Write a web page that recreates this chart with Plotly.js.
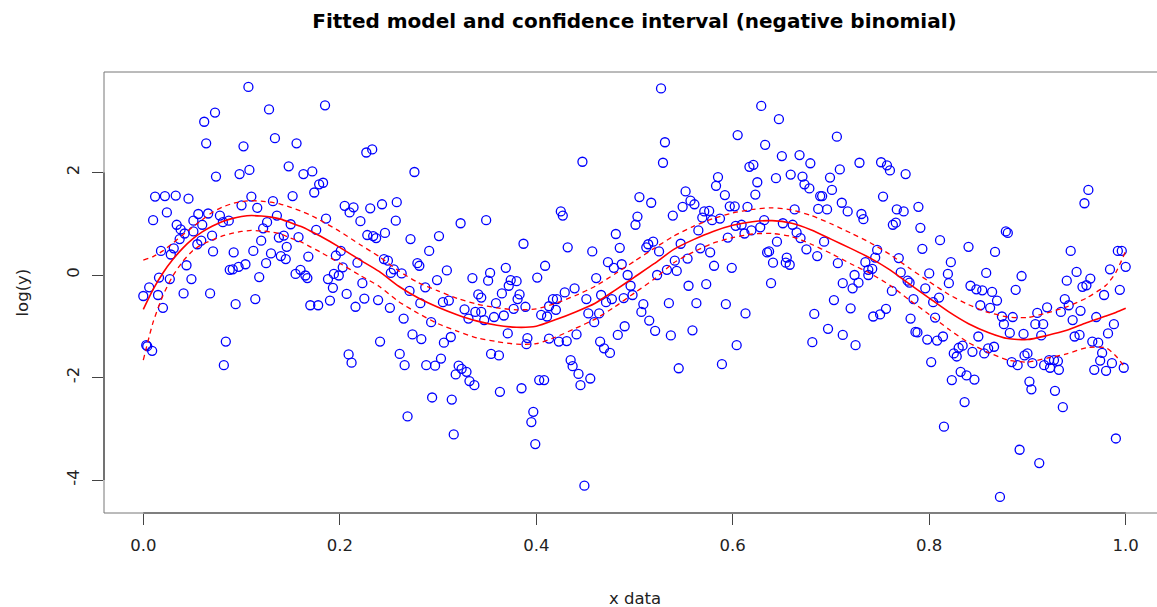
<!DOCTYPE html>
<html>
<head>
<meta charset="utf-8">
<script src="https://cdn.plot.ly/plotly-3.0.1.min.js"></script>
<style>
html,body{margin:0;padding:0;background:#fff;overflow:hidden;width:1157px;height:607px;}
#chart{width:1200px;height:607px;}
</style>
</head>
<body>
<div id="chart"></div>
<script>
// ---- data ----
const xData = [
0.062,0.073,0.064,0.074,0.012,0.022,0.033,0.046,0.010,0.024,0.034,0.038,0.042,0.051,0.056,0.066,0.060,0.051,0.037,0.031,0.028,0.018,0.055,0.059,0.070,0.071,0.044,0.016,0.027,0.006,0.000,0.015,0.049,0.041,0.068,0.020,0.003,0.004,0.009,
0.107,0.128,0.102,0.134,0.156,0.098,0.108,0.148,0.163,0.172,0.174,0.110,0.100,0.116,0.132,0.152,0.078,0.081,0.087,0.126,0.136,0.122,0.150,0.138,0.143,0.158,0.120,0.146,0.092,0.112,0.130,0.140,0.145,0.168,0.088,0.091,0.097,0.104,0.125,0.118,0.155,0.160,0.165,0.167,0.094,0.114,0.170,0.178,0.084,0.082,
0.185,0.227,0.233,0.276,0.179,0.183,0.205,0.210,0.214,0.231,0.243,0.258,0.221,0.186,0.257,0.176,0.228,0.234,0.237,0.246,0.272,0.201,0.196,0.218,0.245,0.249,0.279,0.281,0.203,0.194,0.199,0.188,0.255,0.252,0.263,0.193,0.223,0.271,0.190,0.207,0.225,0.216,0.239,0.251,0.282,0.265,0.274,0.283,0.241,0.209,0.212,0.261,0.266,0.269,
0.323,0.349,0.301,0.291,0.387,0.309,0.299,0.287,0.335,0.353,0.351,0.369,0.374,0.380,0.372,0.341,0.344,0.365,0.383,0.381,0.359,0.305,0.311,0.327,0.338,0.344,0.347,0.357,0.367,0.377,0.389,0.331,0.293,0.371,0.313,0.306,0.391,0.390,0.354,0.362,0.303,0.288,0.297,0.321,0.324,0.318,0.329,0.332,0.337,0.294,0.314,0.363,0.385,0.316,
0.447,0.425,0.427,0.432,0.457,0.481,0.485,0.409,0.401,0.473,0.479,0.487,0.461,0.493,0.439,0.429,0.451,0.466,0.477,0.471,0.489,0.496,0.498,0.417,0.421,0.413,0.420,0.405,0.411,0.453,0.464,0.459,0.441,0.465,0.469,0.475,0.483,0.490,0.413,0.423,0.431,0.435,0.437,0.443,0.445,0.455,0.403,0.408,0.397,0.395,0.399,0.449,
0.527,0.531,0.529,0.605,0.505,0.517,0.503,0.501,0.539,0.552,0.557,0.561,0.549,0.585,0.583,0.592,0.597,0.602,0.571,0.576,0.569,0.579,0.587,0.565,0.603,0.595,0.512,0.514,0.519,0.525,0.547,0.567,0.577,0.541,0.554,0.581,0.599,0.533,0.543,0.523,0.555,0.573,0.509,0.507,0.535,0.563,0.593,0.515,0.521,0.537,0.559,0.604,0.545,0.589,
0.629,0.647,0.633,0.706,0.650,0.668,0.679,0.617,0.621,0.625,0.644,0.659,0.671,0.673,0.678,0.699,0.709,0.701,0.623,0.689,0.691,0.711,0.615,0.663,0.687,0.696,0.632,0.609,0.619,0.612,0.628,0.651,0.661,0.665,0.669,0.645,0.693,0.675,0.686,0.635,0.637,0.641,0.654,0.655,0.658,0.707,0.639,0.712,0.703,0.613,0.683,0.697,0.712,0.681,
0.729,0.751,0.757,0.760,0.776,0.753,0.717,0.731,0.733,0.767,0.774,0.789,0.763,0.766,0.791,0.793,0.811,0.747,0.745,0.735,0.769,0.738,0.742,0.738,0.724,0.728,0.722,0.771,0.778,0.780,0.800,0.796,0.762,0.784,0.804,0.810,0.720,0.756,0.750,0.743,0.781,0.806,0.725,0.786,0.788,0.798,0.808,0.814,0.802,0.815,
0.878,0.880,0.840,0.867,0.822,0.819,0.820,0.858,0.894,0.888,0.842,0.848,0.854,0.864,0.869,0.852,0.862,0.920,0.910,0.874,0.885,0.876,0.908,0.916,0.882,0.896,0.914,0.850,0.825,0.828,0.830,0.834,0.844,0.856,0.860,0.866,0.884,0.890,0.897,0.900,0.905,0.917,0.922,0.832,0.838,0.846,0.823,0.902,0.904,0.836,0.892,0.912,0.872,
0.962,0.958,0.944,0.992,0.996,0.950,0.984,1.000,0.940,0.956,0.960,0.964,0.994,0.978,0.938,0.942,0.934,0.954,0.946,0.970,0.988,0.982,0.948,0.953,0.966,0.972,0.976,0.974,0.968,0.980,0.986,0.998,0.927,0.931,0.923,0.932,0.928,0.936,0.990
];
const yData = [
2.99,3.17,2.57,1.92,1.53,1.54,1.55,1.49,1.07,1.22,0.98,0.89,0.81,1.06,1.19,1.20,0.98,0.85,0.70,0.52,0.40,0.47,0.60,0.67,0.77,0.46,0.19,-0.05,-0.08,-0.24,-0.41,-0.39,-0.08,-0.36,-0.36,-0.64,-1.37,-1.39,-1.48,
3.67,3.23,2.51,2.67,2.57,1.97,2.05,2.12,1.97,2.02,1.61,1.53,1.36,1.31,1.44,1.54,1.16,1.03,1.06,1.03,1.16,0.91,0.99,0.73,0.77,0.74,0.67,0.55,0.44,0.47,0.42,0.37,0.31,0.36,0.10,0.11,0.16,0.21,0.23,-0.04,0.02,0.10,-0.01,-0.06,-0.57,-0.47,-0.59,-0.59,-1.30,-1.76,
3.31,2.39,2.45,2.01,1.77,1.80,1.35,1.22,1.32,1.30,1.38,1.42,1.05,1.10,1.06,0.88,0.78,0.76,0.72,0.82,0.70,0.47,0.38,0.24,0.31,0.28,0.23,0.18,0.15,0.02,-0.01,-0.08,0.11,0.04,0.03,-0.25,-0.16,-0.31,-0.50,-0.37,-0.46,-0.62,-0.49,-0.64,-0.55,-0.85,-1.16,-1.25,-1.30,-1.55,-1.71,-1.54,-1.76,-2.76,
1.01,1.07,0.76,0.47,0.61,0.09,-0.10,-0.24,-0.06,0.04,-0.11,0.14,-0.10,-0.12,-0.21,-0.38,-0.44,-0.36,-0.38,-0.47,-0.55,-0.53,-0.50,-0.67,-0.72,-0.72,-0.88,-0.82,-0.79,-0.66,-0.62,-0.85,-0.92,-1.14,-1.21,-1.32,-1.23,-1.35,-1.54,-1.57,-1.63,-1.76,-1.77,-1.77,-1.83,-1.94,-1.89,-2.07,-2.15,-2.39,-2.43,-2.28,-2.21,-3.11,
2.21,1.24,1.16,0.54,0.46,0.80,0.53,0.18,-0.05,0.25,0.14,0.21,-0.06,0.00,-0.26,-0.34,-0.47,-0.39,-0.47,-0.53,-0.45,-0.21,-0.39,-0.47,-0.47,-0.61,-0.68,-0.78,-0.81,-0.75,-0.75,-0.92,-1.16,-1.30,-1.43,-1.52,-1.17,-1.00,-1.24,-1.30,-1.29,-1.66,-1.78,-1.93,-2.15,-2.02,-2.05,-2.05,-2.67,-2.87,-3.30,-4.11,
3.64,2.59,2.19,2.73,1.52,1.41,1.14,0.98,1.16,1.63,1.45,1.38,1.33,1.91,1.74,1.56,1.34,1.34,1.24,1.25,1.12,1.07,1.10,0.87,0.96,0.73,0.54,0.60,0.65,0.46,0.61,0.52,0.44,0.28,0.32,0.18,0.14,0.10,0.08,0.00,-0.21,-0.18,-0.57,-0.72,-0.55,-0.55,-0.57,-0.89,-1.09,-1.18,-1.08,-1.37,-1.82,-1.74,
3.30,3.04,2.54,2.70,2.32,2.34,2.18,2.11,2.15,1.81,1.89,1.96,1.92,1.77,1.69,1.90,2.06,1.66,1.57,1.54,1.54,1.41,1.33,1.28,1.29,1.28,1.07,0.98,0.87,0.81,0.93,1.01,0.98,0.83,0.72,0.65,0.65,0.50,0.37,0.44,0.46,0.24,0.24,0.34,0.20,0.23,-0.16,-0.16,-0.49,-0.75,-0.76,-1.05,-1.17,-1.31,
2.19,2.20,2.14,2.04,1.97,1.53,1.24,1.19,1.09,1.28,1.24,1.33,0.98,1.02,0.92,0.51,0.68,0.49,0.34,0.25,0.33,0.10,0.12,0.00,0.00,-0.15,-0.26,0.05,-0.11,-0.15,0.03,-0.26,-0.31,-0.47,-0.53,-0.44,-0.65,-0.66,-0.77,-0.81,-0.85,-0.83,-1.37,-1.11,-1.12,-1.26,-1.28,-1.20,-1.70,-2.96,
0.85,0.82,0.55,0.45,0.25,0.02,-0.16,0.04,-0.02,-0.29,-0.21,-0.28,-0.30,-0.33,-0.50,-0.59,-0.64,-0.63,-0.74,-0.81,-0.82,-0.96,-0.96,-0.96,-1.13,-1.15,-1.18,-1.20,-1.53,-1.59,-1.42,-1.38,-1.50,-1.53,-1.43,-1.40,-1.70,-1.76,-1.57,-1.53,-1.72,-1.76,-1.66,-1.89,-1.96,-2.04,-2.05,-2.08,-2.23,-2.48,-3.41,-3.67,-4.33,
1.66,1.40,0.47,0.47,0.47,0.06,0.11,0.16,-0.11,-0.23,-0.20,-0.07,-0.29,-0.39,-0.47,-0.59,-0.72,-0.70,-0.88,-0.82,-0.96,-1.14,-1.20,-1.17,-1.30,-1.32,-1.52,-1.67,-1.85,-1.87,-1.72,-1.81,-1.66,-1.68,-1.81,-1.85,-2.26,-2.58,-3.19
];
// fitted curve and confidence band
const xFit = [0,0.01,0.02,0.03,0.04,0.05,0.06,0.07,0.08,0.09,0.10,0.11,0.12,0.13,0.14,0.15,0.16,0.17,0.18,0.20,0.22,0.24,0.26,0.28,0.30,0.32,0.34,0.36,0.38,0.40,0.42,0.44,0.46,0.48,0.50,0.52,0.54,0.56,0.58,0.60,0.62,0.64,0.66,0.68,0.70,0.72,0.74,0.76,0.78,0.80,0.82,0.84,0.86,0.88,0.90,0.92,0.94,0.96,0.98,0.99,1.00];
const yFit = [-0.67,-0.28,0.04,0.30,0.52,0.70,0.84,0.95,1.04,1.10,1.14,1.16,1.15,1.13,1.09,1.02,0.95,0.86,0.76,0.54,0.30,0.07,-0.22,-0.45,-0.63,-0.78,-0.90,-0.98,-1.02,-1.00,-0.87,-0.72,-0.55,-0.30,-0.04,0.22,0.50,0.69,0.85,0.97,1.04,1.06,1.01,0.88,0.70,0.52,0.33,0.10,-0.18,-0.45,-0.72,-0.95,-1.12,-1.24,-1.26,-1.18,-1.08,-0.93,-0.80,-0.73,-0.65];
const yUpper = [0.29,0.36,0.47,0.62,0.78,0.93,1.08,1.22,1.32,1.39,1.43,1.45,1.44,1.42,1.38,1.32,1.25,1.17,1.07,0.85,0.60,0.36,0.08,-0.15,-0.31,-0.46,-0.57,-0.64,-0.68,-0.66,-0.55,-0.40,-0.22,0.02,0.27,0.52,0.76,0.95,1.10,1.21,1.28,1.31,1.27,1.16,1.00,0.82,0.63,0.40,0.13,-0.13,-0.38,-0.58,-0.73,-0.82,-0.83,-0.74,-0.62,-0.45,-0.20,0.05,0.47];
const yLower = [-1.66,-0.92,-0.40,-0.02,0.26,0.47,0.60,0.68,0.76,0.81,0.85,0.87,0.86,0.84,0.80,0.72,0.65,0.55,0.45,0.23,0.00,-0.22,-0.52,-0.75,-0.95,-1.10,-1.23,-1.30,-1.35,-1.34,-1.21,-1.04,-0.86,-0.62,-0.35,-0.08,0.24,0.45,0.62,0.73,0.80,0.81,0.75,0.60,0.42,0.22,0.03,-0.20,-0.49,-0.77,-1.06,-1.32,-1.51,-1.66,-1.70,-1.62,-1.54,-1.42,-1.42,-1.58,-1.82];
const xTicks = [0,0.2,0.4,0.6,0.8,1.0];
const xTickText = ["0.0","0.2","0.4","0.6","0.8","1.0"];
const yTicks = [-4,-2,0,2];
const yTickText = ["-4","-2","0","2"];

const FONT = "DejaVu Sans, Verdana, sans-serif";
const red = "#ff0000";

const traces = [
  {x:xData, y:yData, type:"scatter", mode:"markers", hoverinfo:"skip",
   marker:{symbol:"circle-open", size:9, color:"#0000ff", line:{width:1.3}}},
  {x:xFit, y:yFit, type:"scatter", mode:"lines", line:{color:red, width:1.6, shape:"spline", smoothing:0.6}},
  {x:xFit, y:yUpper, type:"scatter", mode:"lines", line:{color:red, width:1.3, dash:"5px,4px", shape:"spline", smoothing:0.6}},
  {x:xFit, y:yLower, type:"scatter", mode:"lines", line:{color:red, width:1.3, dash:"5px,4px", shape:"spline", smoothing:0.6}}
];

const layout = {
  width:1200, height:607,
  margin:{l:104, r:35, t:72, b:94, pad:0},
  paper_bgcolor:"#fff", plot_bgcolor:"#fff",
  showlegend:false,
  font:{family:FONT, color:"#000"},
  title:{text:"<b>Fitted model and confidence interval (negative binomial)</b>",
         font:{family:FONT, size:20, color:"#000"},
         x:0.5, xref:"paper", y:1-21/607, yref:"container", yanchor:"middle", xanchor:"center"},
  xaxis:{range:[-0.04,1.04], tickvals:xTicks, ticktext:xTickText, ticks:"outside", ticklen:11,
         tickcolor:"#444", tickwidth:1, showgrid:false, zeroline:false, showline:false,
         tickfont:{family:FONT, size:16.5, color:"#222"}, ticklabelstandoff:6},
  yaxis:{range:[-4.644,3.961], tickvals:yTicks, ticktext:yTickText, ticks:"outside", ticklen:11,
         tickcolor:"#444", tickwidth:1, showgrid:false, zeroline:false, showline:false, tickangle:-90,
         tickfont:{family:FONT, size:16.5, color:"#222"}, ticklabelstandoff:6},
  shapes:[
    {type:"rect", xref:"paper", yref:"paper", x0:0, x1:1, y0:0, y1:1, line:{color:"#777", width:1}},
    {type:"line", xref:"x", yref:"paper", x0:xTicks[0], x1:xTicks[xTicks.length-1], y0:0, y1:0, line:{color:"#444", width:1.2}},
    {type:"line", xref:"paper", yref:"y", x0:0, x1:0, y0:yTicks[0], y1:yTicks[yTicks.length-1], line:{color:"#444", width:1.2}}
  ],
  annotations:[
    {text:"x data", xref:"paper", yref:"paper", x:0.5, y:(513-598)/441, xanchor:"center", yanchor:"middle",
     showarrow:false, font:{family:FONT, size:16.5, color:"#222"}},
    {text:"log(y)", xref:"paper", yref:"paper", x:(22-104)/1061, y:0.5, xanchor:"center", yanchor:"middle",
     textangle:-90, showarrow:false, font:{family:FONT, size:16.5, color:"#222"}}
  ]
};

Plotly.newPlot("chart", traces, layout, {staticPlot:true, displayModeBar:false});
</script>
</body>
</html>
